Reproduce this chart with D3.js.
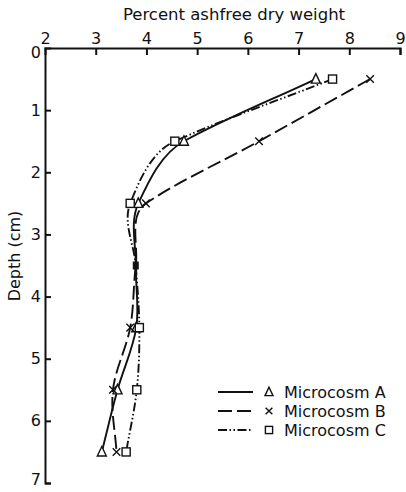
<!DOCTYPE html>
<html><head><meta charset="utf-8">
<script src="https://cdn.jsdelivr.net/npm/d3@7"></script>
<style>body{margin:0;background:#fff}text{font-family:"DejaVu Sans",sans-serif;fill:#111}</style>
</head><body><svg id="c" width="406" height="492"></svg>
<script>
const depths = [0.5, 1.5, 2.5, 3.5, 4.5, 5.5, 6.5];
const microA = [7.34, 4.74, 3.84, 3.79, 3.80, 3.43, 3.12];
const microB = [8.41, 6.22, 3.99, 3.79, 3.68, 3.34, 3.41];
const microC = [7.67, 4.56, 3.68, 3.79, 3.86, 3.81, 3.60];
const xTicks = [2, 3, 4, 5, 6, 7, 8, 9];
const yTicks = [0, 1, 2, 3, 4, 5, 6, 7];
const seriesNames = ["Microcosm A", "Microcosm B", "Microcosm C"];

const svg = d3.select("#c");
const x = d3.scaleLinear().domain([2, 9]).range([45, 400]);
const y = d3.scaleLinear().domain([0, 7]).range([48, 483]);
const ink = "#111";

// axes
const xAxis = d3.axisTop(x).tickValues(xTicks).tickSize(-7).tickPadding(4).tickFormat(d3.format("d"));
const gx = svg.append("g").attr("transform", `translate(0,${y(0)})`).call(xAxis);
const yAxis = d3.axisLeft(y).tickValues(yTicks).tickSize(-6).tickPadding(4).tickFormat(d3.format("d"));
const gy = svg.append("g").attr("transform", `translate(${x(2)},0)`).call(yAxis);
[gx, gy].forEach(g => {
  g.select(".domain").attr("stroke", ink).attr("stroke-width", 2);
  g.selectAll(".tick line").attr("stroke", ink).attr("stroke-width", 2);
  g.selectAll(".tick text").attr("font-size", 16).attr("font-family", "DejaVu Sans").attr("fill", ink);
});
gx.selectAll(".tick").filter(d => d === 2).select("line").remove();
gy.selectAll(".tick").filter(d => d === 0).select("line").remove();
gy.selectAll(".tick").filter(d => d === 0).select("text").attr("dy", "0.6em");
gy.selectAll(".tick").filter(d => d === 7).select("text").attr("dy", "0.1em");

svg.append("text").attr("x", 234).attr("y", 20).attr("text-anchor", "middle")
  .attr("font-size", 16.5).text("Percent ashfree dry weight");
svg.append("text").attr("transform", "translate(20,256) rotate(-90)").attr("text-anchor", "middle")
  .attr("font-size", 16).text("Depth (cm)");

// smooth curve through scaled points (tangent leans toward the longer neighbouring chord)
function smoothPath(pts) {
  const p = d3.path();
  const n = pts.length;
  const T = pts.map((pt, i) => {
    if (i === 0) return [pts[1][0] - pt[0], pts[1][1] - pt[1]];
    if (i === n - 1) return [pt[0] - pts[i - 1][0], pt[1] - pts[i - 1][1]];
    const b = [pt[0] - pts[i - 1][0], pt[1] - pts[i - 1][1]];
    const f = [pts[i + 1][0] - pt[0], pts[i + 1][1] - pt[1]];
    const lb = b[0] * b[0] + b[1] * b[1], lf = f[0] * f[0] + f[1] * f[1];
    const w = lb / (lb + lf);
    return [w * b[0] + (1 - w) * f[0], w * b[1] + (1 - w) * f[1]];
  }).map(t => { const l = Math.hypot(t[0], t[1]) || 1; return [t[0] / l, t[1] / l]; });
  p.moveTo(pts[0][0], pts[0][1]);
  for (let i = 0; i < n - 1; i++) {
    const a = pts[i], c = pts[i + 1];
    const L = Math.hypot(c[0] - a[0], c[1] - a[1]) / 3;
    p.bezierCurveTo(a[0] + T[i][0] * L, a[1] + T[i][1] * L,
      c[0] - T[i + 1][0] * L, c[1] - T[i + 1][1] * L, c[0], c[1]);
  }
  return p.toString();
}

const dashes = ["none", "14,5", "9,2.5,1.5,2.5,1.5,2.5"];
const all = [microA, microB, microC];
all.forEach((vals, i) => {
  const pts = vals.map((v, j) => [x(v), y(depths[j])]);
  svg.append("path").attr("d", smoothPath(pts)).attr("fill", "none").attr("stroke", ink)
    .attr("stroke-width", 1.9).attr("stroke-dasharray", dashes[i]);
});

function marker(g, type, cx, cy, s) {
  if (type === 0) {
    g.append("path").attr("d", `M${cx},${cy - s * 0.6}L${cx + s * 0.5},${cy + s * 0.45}L${cx - s * 0.5},${cy + s * 0.45}Z`)
      .attr("fill", "#fff").attr("stroke", ink).attr("stroke-width", 1.4);
  } else if (type === 1) {
    const h = s * 0.42;
    g.append("path").attr("d", `M${cx - h},${cy - h}L${cx + h},${cy + h}M${cx + h},${cy - h}L${cx - h},${cy + h}`)
      .attr("fill", "none").attr("stroke", ink).attr("stroke-width", 1.4);
  } else {
    const h = s * 0.45;
    g.append("rect").attr("x", cx - h).attr("y", cy - h).attr("width", 2 * h).attr("height", 2 * h)
      .attr("fill", "#fff").attr("stroke", ink).attr("stroke-width", 1.4);
  }
}
const mg = svg.append("g");
all.forEach((vals, i) => {
  vals.forEach((v, j) => {
    if (j === 3) return;
    marker(mg, i, x(v), y(depths[j]), 9);
  });
});
// merged blob at 3.5
mg.append("rect").attr("x", x(3.79) - 3).attr("y", y(3.5) - 4).attr("width", 6).attr("height", 8).attr("fill", ink);

// legend
const lg = svg.append("g");
const ly = [392, 411, 430];
seriesNames.forEach((n, i) => {
  lg.append("line").attr("x1", 218).attr("x2", 253).attr("y1", ly[i]).attr("y2", ly[i])
    .attr("stroke", ink).attr("stroke-width", 1.9).attr("stroke-dasharray", dashes[i]);
  marker(lg, i, 269, ly[i], 8);
  lg.append("text").attr("x", 284).attr("y", ly[i]).attr("dy", "0.36em").attr("font-size", 16).text(n);
});
</script></body></html>
